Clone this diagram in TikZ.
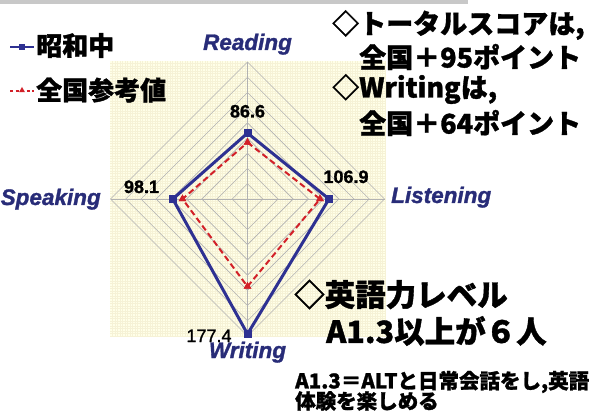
\documentclass[tikz,border=0pt]{standalone}
\usepackage{fontspec}
\setmainfont{Liberation Sans}
\newfontfamily\heavysans{Liberation Sans}[FakeBold=1.3]
\newfontfamily\jp{Noto Sans CJK JP}[BoldFeatures={FakeBold=1.2}]
\usetikzlibrary{shapes.geometric}
\definecolor{schoolblue}{RGB}{46,49,146}
\definecolor{natred}{RGB}{210,32,40}
\definecolor{axislab}{RGB}{40,44,120}
\definecolor{bgyellow}{RGB}{255,255,232}
\definecolor{bggrid}{RGB}{246,242,214}
\definecolor{ringgray}{RGB}{178,178,178}
\definecolor{topbar}{RGB}{200,200,200}
\begin{document}
\begin{tikzpicture}[x=1pt,y=-1pt,
  ring/.style={draw=ringgray,line width=0.6pt},
  bline/.style={draw=schoolblue,line width=3pt,line join=miter},
  rline/.style={draw=natred,line width=2pt,dash pattern=on 6pt off 3.5pt},
  bsq/.style={rectangle,fill=schoolblue,minimum size=8pt,inner sep=0pt},
  rtri/.style={regular polygon,regular polygon sides=3,fill=natred,minimum size=9pt,inner sep=0pt},
  axlab/.style={text=axislab,inner sep=0pt,anchor=base,font=\heavysans\fontsize{22.5}{27}\selectfont\bfseries\itshape},
  vallab/.style={inner sep=0pt,anchor=base,font=\heavysans\fontsize{18}{22}\selectfont\bfseries},
  jpbig/.style={inner sep=0pt,anchor=west,font=\jp\bfseries\fontsize{27}{32}\selectfont},
  jpleg/.style={inner sep=0pt,anchor=west,font=\jp\bfseries\fontsize{26}{30}\selectfont},
  jplevel/.style={inner sep=0pt,anchor=west,font=\jp\bfseries\fontsize{30.5}{36}\selectfont},
  jpsmall/.style={inner sep=0pt,anchor=west,font=\jp\bfseries\fontsize{20.5}{22}\selectfont}
]
\useasboundingbox (0,0) rectangle (599,411);
% top bar
\fill[topbar] (0,0) rectangle (468,4);
% chart background
\fill[bgyellow] (110,61) rectangle (386,337);
\foreach \gx in {112.5,115,...,385} \draw[bggrid,line width=0.4pt] (\gx,61) -- (\gx,337);
\foreach \gy in {63.5,66,...,336} \draw[bggrid,line width=0.4pt] (110,\gy) -- (386,\gy);
% rings
\foreach \i in {1,...,9} {
  \pgfmathsetmacro\rr{15.222*\i}
  \draw[ring] (247.5,{199-\rr}) -- ({247.5+\rr},199) -- (247.5,{199+\rr}) -- ({247.5-\rr},199) -- cycle;
}
% axes
\coordinate (C) at (247.5,199);
\coordinate (aR) at (247.5,62);
\coordinate (aL) at (384.5,199);
\coordinate (aW) at (247.5,336);
\coordinate (aS) at (110.5,199);
\draw[ring] (C) -- (aR);
\draw[ring] (C) -- (aL);
\draw[ring] (C) -- (aW);
\draw[ring] (C) -- (aS);
% national (red)
\node[rtri] (rR) at (247.5,142.5) {};
\node[rtri] (rL) at (320,199) {};
\node[rtri] (rW) at (247.5,286.5) {};
\node[rtri] (rS) at (182.5,199) {};
\draw[rline] (rR.center) -- (rL.center) -- (rW.center) -- (rS.center) -- cycle;
\node[rtri] at (rR) {};
\node[rtri] at (rL) {};
\node[rtri] at (rW) {};
\node[rtri] at (rS) {};
% school (blue)
\node[bsq] (bR) at (247.5,133.1) {};
\node[bsq] (bL) at (329,199) {};
\node[bsq] (bW) at (247.5,334) {};
\node[bsq] (bS) at (172.8,199) {};
\draw[bline] (bR.center) -- (bL.center) -- (bW.center) -- (bS.center) -- cycle;
\node[bsq] at (bR) {};
\node[bsq] at (bL) {};
\node[bsq] at (bW) {};
\node[bsq] at (bS) {};
% axis labels
\node[axlab] (tR) at (247.5,50) {Reading};
\node[axlab,anchor=base west] (tS) at (0.5,205) {Speaking};
\node[axlab,anchor=base west] (tL) at (391,203) {Listening};
\node[axlab] (tW) at (247.5,358) {Writing};
% values
\node[vallab] (vR) at (247.5,117.5) {86.6};
\node[vallab] (vS) at (141.5,193) {98.1};
\node[vallab] (vL) at (346,183) {106.9};
\node[vallab,font=\heavysans\fontsize{18}{22}\selectfont] (vW) at (209,342) {177.4};
% legend
\coordinate (lb1) at (10,47);
\coordinate (lb2) at (34,47);
\draw[draw=schoolblue,line width=2.5pt] (lb1) -- (lb2);
\node[bsq,minimum size=6pt] (lbm) at (22,47) {};
\node[jpleg] (lbt) at (36,45.5) {昭和中};
\coordinate (lr1) at (10,91);
\coordinate (lr2) at (34,91);
\draw[draw=natred,line width=1.8pt,dash pattern=on 3pt off 2.5pt] (lr1) -- (lr2);
\node[rtri,minimum size=7pt] (lrm) at (22,90.5) {};
\node[jpleg] (lrt) at (36,90) {全国参考値};
% right texts
\node[jpbig] (t1) at (332,25) {◇トータルスコアは,};
\node[jpbig] (t2) at (359,57) {全国＋95ポイント};
\node[jpbig] (t3) at (332,89) {◇Writingは,};
\node[jpbig] (t4) at (359,123) {全国＋64ポイント};
% level
\node[jplevel] (t5) at (294,294.5) {◇英語力レベル};
\node[jplevel] (t6) at (326,331) {A1.3以上が６人};
\node[jpsmall] (t7) at (295,382) {A1.3＝ALTと日常会話をし,英語};
\node[jpsmall] (t8) at (295,401) {体験を楽しめる};
\end{tikzpicture}
\end{document}
